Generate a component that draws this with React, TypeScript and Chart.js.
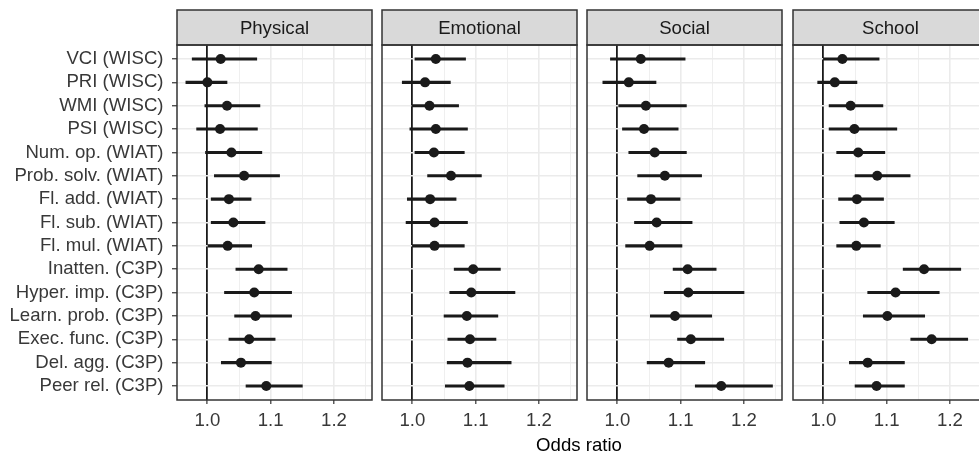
import React, { useEffect, useRef } from 'react';
import { Chart, registerables } from 'chart.js';

Chart.register(...registerables);

// ---- data ----
const MEASURES = [
  'VCI (WISC)', 'PRI (WISC)', 'WMI (WISC)', 'PSI (WISC)',
  'Num. op. (WIAT)', 'Prob. solv. (WIAT)', 'Fl. add. (WIAT)', 'Fl. sub. (WIAT)', 'Fl. mul. (WIAT)',
  'Inatten. (C3P)', 'Hyper. imp. (C3P)', 'Learn. prob. (C3P)', 'Exec. func. (C3P)', 'Del. agg. (C3P)', 'Peer rel. (C3P)',
];
const PANELS = ['Physical', 'Emotional', 'Social', 'School'];

const PHYSICAL_OR = [1.021, 1.000, 1.031, 1.020, 1.038, 1.058, 1.034, 1.041, 1.032, 1.081, 1.074, 1.076, 1.066, 1.053, 1.093];
const PHYSICAL_LO = [0.976, 0.966, 0.996, 0.983, 0.997, 1.011, 1.006, 1.006, 1.001, 1.045, 1.027, 1.043, 1.034, 1.022, 1.061];
const PHYSICAL_HI = [1.078, 1.031, 1.083, 1.079, 1.086, 1.114, 1.069, 1.091, 1.070, 1.126, 1.133, 1.133, 1.107, 1.101, 1.150];

const EMOTIONAL_OR = [1.037, 1.020, 1.027, 1.037, 1.034, 1.061, 1.028, 1.035, 1.035, 1.096, 1.093, 1.086, 1.091, 1.087, 1.090];
const EMOTIONAL_LO = [1.004, 0.984, 0.999, 0.996, 1.004, 1.024, 0.992, 0.990, 1.000, 1.066, 1.059, 1.050, 1.056, 1.055, 1.052];
const EMOTIONAL_HI = [1.084, 1.060, 1.073, 1.087, 1.082, 1.109, 1.069, 1.087, 1.082, 1.139, 1.162, 1.135, 1.132, 1.156, 1.145];

const SOCIAL_OR = [1.037, 1.018, 1.045, 1.042, 1.059, 1.075, 1.053, 1.062, 1.051, 1.111, 1.112, 1.091, 1.116, 1.081, 1.164];
const SOCIAL_LO = [0.989, 0.977, 1.002, 1.008, 1.018, 1.032, 1.016, 1.027, 1.013, 1.088, 1.074, 1.052, 1.095, 1.047, 1.123];
const SOCIAL_HI = [1.107, 1.061, 1.109, 1.096, 1.109, 1.133, 1.099, 1.118, 1.102, 1.156, 1.200, 1.149, 1.168, 1.138, 1.245];

const SCHOOL_OR = [1.030, 1.018, 1.043, 1.049, 1.055, 1.085, 1.053, 1.064, 1.052, 1.159, 1.114, 1.101, 1.171, 1.070, 1.084];
const SCHOOL_LO = [1.000, 0.991, 1.009, 1.009, 1.021, 1.050, 1.024, 1.026, 1.021, 1.126, 1.070, 1.063, 1.138, 1.041, 1.050];
const SCHOOL_HI = [1.088, 1.053, 1.094, 1.116, 1.097, 1.137, 1.095, 1.112, 1.090, 1.217, 1.183, 1.160, 1.228, 1.128, 1.128];

const X_GRID = [1.0, 1.05, 1.1, 1.15, 1.2, 1.25];
const X_LABELED = [1.0, 1.1, 1.2];
const X_TITLE = 'Odds ratio';

const SERIES = [
  { or: PHYSICAL_OR, lo: PHYSICAL_LO, hi: PHYSICAL_HI },
  { or: EMOTIONAL_OR, lo: EMOTIONAL_LO, hi: EMOTIONAL_HI },
  { or: SOCIAL_OR, lo: SOCIAL_LO, hi: SOCIAL_HI },
  { or: SCHOOL_OR, lo: SCHOOL_LO, hi: SCHOOL_HI },
];

// ---- layout ----
const W = 979;
const H = 455;
const PANEL_LEFT = [177, 382, 587, 793];
const PANEL_WIDTH = 195;
const PLOT_TOP = 45;
const PLOT_BOTTOM = 400;
const STRIP_TOP = 10;
const Y_AXIS_W = 175;
const PAD = 2;
const FONT = '"Liberation Sans", Arial, sans-serif';
const FONT_SIZE = 18.6;
const INK = '#1A1A1A';
const TEXT = '#383838';

const isLabeled = (v: number) => X_LABELED.some((m) => Math.abs(m - v) < 1e-9);

const facetPlugin = {
  id: 'facet',
  afterDraw(chart: any, _args: any, opts: any) {
    const { ctx, chartArea: a } = chart;
    ctx.save();
    ctx.fillStyle = '#D9D9D9';
    ctx.fillRect(a.left, STRIP_TOP, a.right - a.left, a.top - STRIP_TOP);
    ctx.strokeStyle = '#333333';
    ctx.lineWidth = 1.5;
    ctx.strokeRect(a.left, STRIP_TOP, a.right - a.left, a.top - STRIP_TOP);
    ctx.strokeRect(a.left, a.top, a.right - a.left, a.bottom - a.top);
    ctx.fillStyle = INK;
    ctx.font = `${FONT_SIZE}px ${FONT}`;
    ctx.textAlign = 'center';
    ctx.textBaseline = 'middle';
    ctx.fillText(opts.title, (a.left + a.right) / 2, (STRIP_TOP + a.top) / 2 + 1);
    ctx.restore();
  },
};

function Panel({ index }: { index: number }) {
  const ref = useRef<HTMLCanvasElement>(null);
  const first = index === 0;
  const yw = first ? Y_AXIS_W : 0;
  const left = PANEL_LEFT[index] - yw - PAD;
  const width = PANEL_WIDTH + yw + 2 * PAD;

  useEffect(() => {
    const s = SERIES[index];
    const chart = new Chart(ref.current as HTMLCanvasElement, {
      type: 'bar',
      data: {
        datasets: [
          {
            type: 'bar',
            data: MEASURES.map((_, i) => ({ x: [s.lo[i], s.hi[i]], y: i })) as any,
            backgroundColor: INK,
            borderWidth: 0,
            barThickness: 2.4,
            order: 2,
          } as any,
          {
            type: 'scatter',
            data: MEASURES.map((_, i) => ({ x: s.or[i], y: i })),
            backgroundColor: INK,
            borderWidth: 0,
            pointRadius: 5,
            pointHoverRadius: 5,
            order: 1,
          } as any,
        ],
      },
      options: {
        indexAxis: 'y',
        responsive: false,
        animation: false,
        events: [],
        layout: { autoPadding: false, padding: { left: PAD, right: PAD, top: PLOT_TOP, bottom: 0 } },
        plugins: {
          legend: { display: false },
          tooltip: { enabled: false },
          facet: { title: PANELS[index] },
        } as any,
        scales: {
          x: {
            type: 'linear',
            min: 0.952,
            max: 1.26,
            offset: false,
            afterBuildTicks: (scale: any) => {
              scale.ticks = X_GRID.map((v) => ({ value: v }));
            },
            afterFit: (scale: any) => {
              scale.height = H - PLOT_BOTTOM;
              scale.paddingLeft = 0;
              scale.paddingRight = 0;
            },
            border: { display: false },
            grid: {
              offset: false,
              color: (c: any) => (Math.abs(c.tick.value - 1) < 1e-9 ? INK : '#EBEBEB'),
              lineWidth: (c: any) => (Math.abs(c.tick.value - 1) < 1e-9 ? 1.8 : isLabeled(c.tick.value) ? 1.6 : 0.8),
              tickColor: (c: any) => (isLabeled(c.tick.value) ? '#333333' : 'rgba(0,0,0,0)'),
              tickWidth: 1.2,
              tickLength: 4,
            },
            ticks: {
              autoSkip: false,
              maxRotation: 0,
              padding: 6,
              color: TEXT,
              font: { family: FONT, size: FONT_SIZE },
              callback: (v: any) => (isLabeled(Number(v)) ? Number(v).toFixed(1) : ''),
            },
          },
          y: {
            type: 'linear',
            reverse: true,
            offset: false,
            min: -0.6,
            max: MEASURES.length - 0.4,
            afterBuildTicks: (scale: any) => {
              scale.ticks = MEASURES.map((_, i) => ({ value: i }));
            },
            afterFit: (scale: any) => {
              scale.width = yw;
              scale.paddingTop = 0;
              scale.paddingBottom = 0;
            },
            border: { display: false },
            grid: {
              offset: false,
              color: '#EBEBEB',
              lineWidth: 1.5,
              drawTicks: first,
              tickColor: '#333333',
              tickWidth: 1.2,
              tickLength: 5,
            },
            ticks: {
              display: first,
              autoSkip: false,
              padding: 8.5,
              color: TEXT,
              font: { family: FONT, size: FONT_SIZE },
              callback: (v: any) => MEASURES[Number(v)] ?? '',
            },
          },
        },
      },
      plugins: [facetPlugin],
    });
    return () => chart.destroy();
  }, [index]);

  return (
    <canvas
      ref={ref}
      width={width}
      height={H}
      style={{ position: 'absolute', left, top: 0, width, height: H }}
    />
  );
}

export default function App() {
  return (
    <div
      style={{
        position: 'absolute',
        left: 0,
        top: 0,
        width: W,
        height: H,
        overflow: 'hidden',
        background: '#FFFFFF',
      }}
    >
      {PANELS.map((_, i) => (
        <Panel key={i} index={i} />
      ))}
      <div
        style={{
          position: 'absolute',
          left: 479,
          width: 200,
          top: 436,
          textAlign: 'center',
          fontFamily: FONT,
          fontSize: FONT_SIZE,
          lineHeight: '18px',
          color: '#000000',
        }}
      >
        {X_TITLE}
      </div>
    </div>
  );
}
